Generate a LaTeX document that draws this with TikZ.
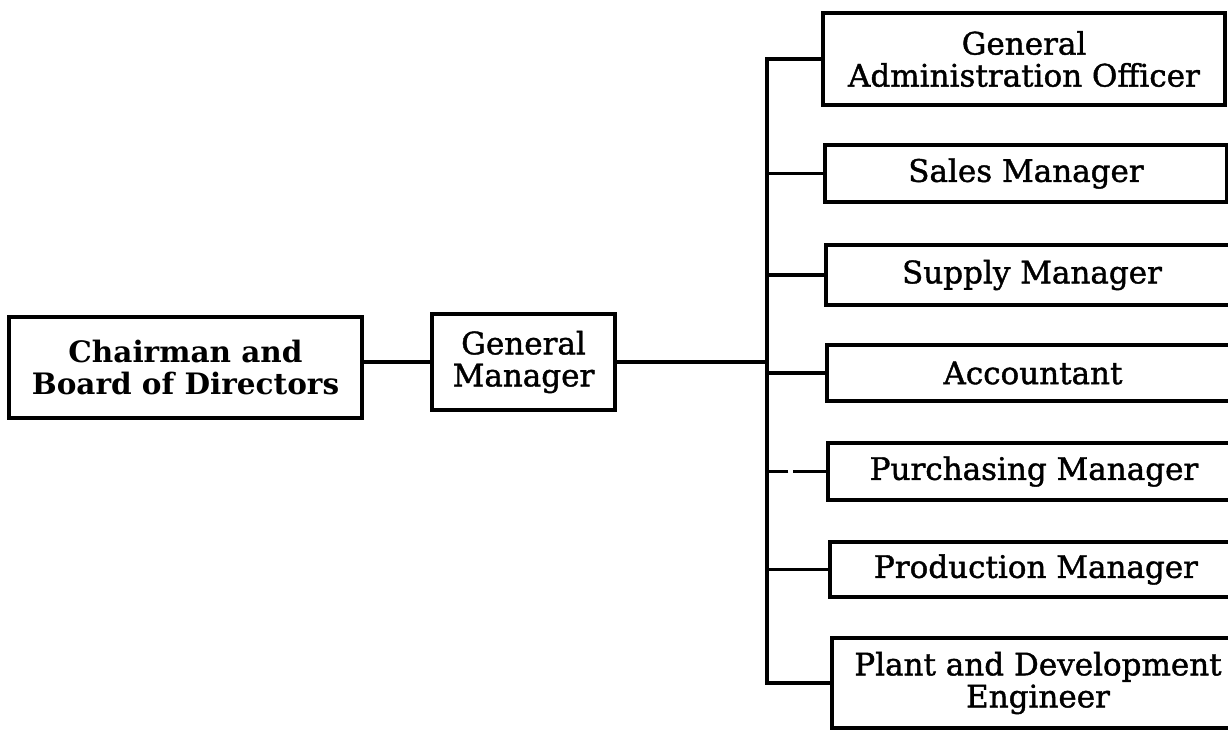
\documentclass[tikz,border=0pt]{standalone}
\usepackage{fontspec}
\setmainfont{DejaVu Serif}
\newfontfamily\heavyserif{DejaVu Serif}[FakeBold=1.3]
\begin{document}
\begin{tikzpicture}[x=1pt,y=-1pt,
  box/.style={draw,line width=3.4pt,inner sep=0pt,align=center,
    font=\heavyserif\fontsize{31}{32}\selectfont},
  boldbox/.style={box,font=\bfseries\fontsize{29.5}{32}\selectfont},
  link/.style={line width=3.4pt}]
\useasboundingbox (0,0) rectangle (1228,732);
\clip (0,0) rectangle (1228,732);
\node[boldbox,minimum width=353pt,minimum height=101pt] (chair) at (185.5,367.5) {Chairman and\\Board of Directors};
\node[box,minimum width=183pt,minimum height=96pt] (gm) at (523.5,362) {General\\Manager};
\node[box,minimum width=402pt,minimum height=92pt] (gao) at (1024,59) {General\\Administration Officer};
\node[box,minimum width=402pt,minimum height=57pt] (sales) at (1026,173.5) {Sales Manager};
\node[box,minimum width=412pt,minimum height=60pt] (supply) at (1032,275) {Supply Manager};
\node[box,minimum width=412pt,minimum height=56pt] (acct) at (1033,373) {Accountant};
\node[box,minimum width=412pt,minimum height=57pt] (purch) at (1034,471.5) {Purchasing Manager};
\node[box,minimum width=412pt,minimum height=55pt] (prod) at (1036,569.5) {Production Manager};
\node[box,minimum width=412pt,minimum height=90pt] (plant) at (1038,683) {Plant and Development\\Engineer};
\coordinate (bx) at (767,0);
\draw[link] (gm.west) -- (gm.west -| chair.east);
\draw[link] (gm.east) -- (gm.east -| bx);
\draw[link] (gao.west) -- (gao.west -| bx) -- (plant.west -| bx) -- (plant.west);
\draw[link] (sales.west) -- (sales.west -| bx);
\draw[link] (supply.west) -- (supply.west -| bx);
\draw[link] (acct.west) -- (acct.west -| bx);
\draw[link,dash pattern=on 33pt off 5pt on 100pt] (purch.west) -- (purch.west -| bx);
\draw[link] (prod.west) -- (prod.west -| bx);
\end{tikzpicture}
\end{document}
